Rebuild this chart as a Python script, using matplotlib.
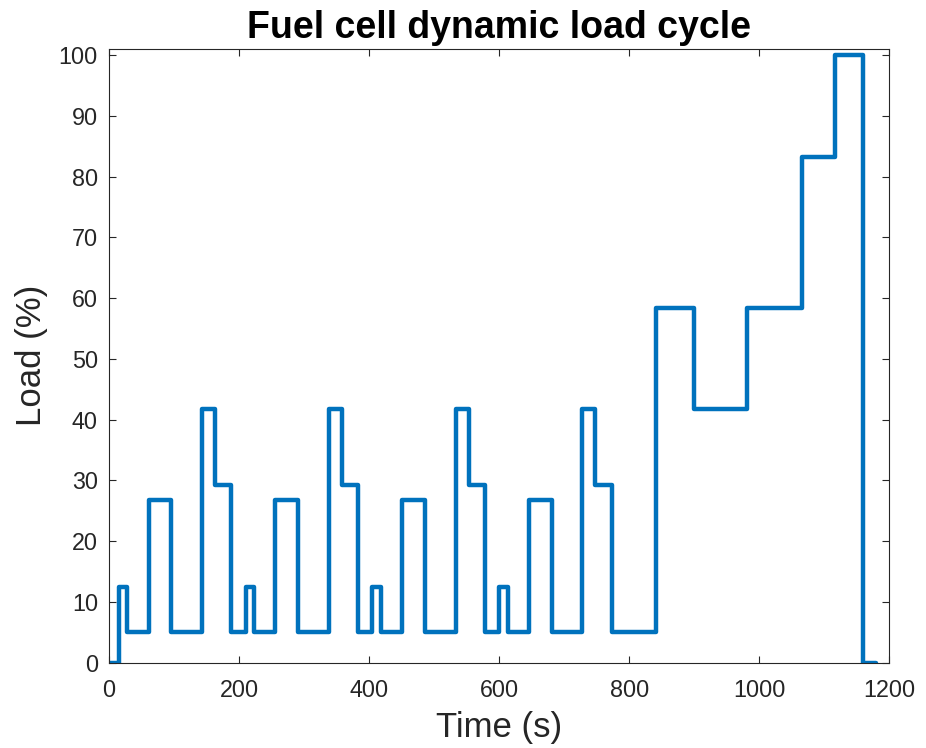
import numpy as np
import matplotlib
matplotlib.use("Agg")
import matplotlib.pyplot as plt

# step times (s) where the load changes, and the load (%) held from each time on
change_times = [0, 15, 28, 61, 96, 143, 163, 188,
                210, 223, 256, 291, 338, 358, 383,
                405, 418, 451, 486, 533, 553, 578,
                600, 613, 646, 681, 728, 748, 773,
                841, 899, 981, 1066, 1116, 1160, 1180]
load_levels = [0, 12.5, 5, 26.7, 5, 41.7, 29.2, 5,
               12.5, 5, 26.7, 5, 41.7, 29.2, 5,
               12.5, 5, 26.7, 5, 41.7, 29.2, 5,
               12.5, 5, 26.7, 5, 41.7, 29.2, 5,
               58.3, 41.7, 58.3, 83.3, 100, 0, 0]

x_ticks = [0, 200, 400, 600, 800, 1000, 1200]
y_ticks = [0, 10, 20, 30, 40, 50, 60, 70, 80, 90, 100]

plt.rcParams['font.family'] = ['Liberation Sans', 'DejaVu Sans']
axis_color = '#262626'

fig = plt.figure(figsize=(9.26, 7.48), dpi=100)
ax = fig.add_axes([0.1177, 0.114, 0.8427, 0.8205])

ax.step(change_times, load_levels, where='post', color='#0072BD',
        linewidth=3.2, solid_joinstyle='round', solid_capstyle='round')

ax.set_xlim(0, 1200)
ax.set_ylim(0, 101)
ax.set_xticks(x_ticks)
ax.set_yticks(y_ticks)

# matlab-like ticks: inward, on all four sides
ax.tick_params(direction='in', length=5, width=0.8, top=True, right=True,
               labelsize=16.8, colors=axis_color)
ax.tick_params(axis='x', pad=12)
ax.tick_params(axis='y', pad=8)
for s in ax.spines.values():
    s.set_color(axis_color)
    s.set_linewidth(0.8)

ax.set_xlabel('Time (s)', fontsize=25, color=axis_color, labelpad=6)
ax.set_ylabel('Load (%)', fontsize=25, color=axis_color, labelpad=8)
ax.set_title('Fuel cell dynamic load cycle', fontsize=27, fontweight='bold',
             color='black', pad=8)

fig.savefig('out.png', dpi=100)
